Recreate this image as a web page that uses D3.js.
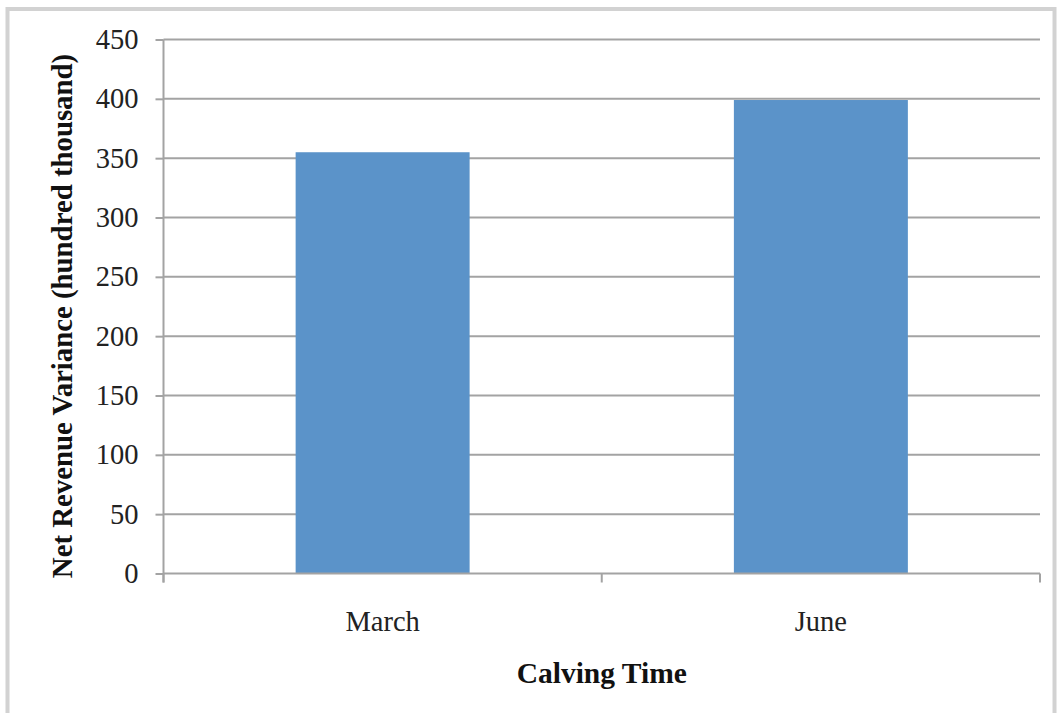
<!DOCTYPE html>
<html>
<head>
<meta charset="utf-8">
<script src="https://cdn.jsdelivr.net/npm/d3@7"></script>
<style>
  html, body { margin: 0; padding: 0; background: #fff; }
  svg { display: block; }
</style>
</head>
<body>
<svg id="chart" width="1057" height="713"></svg>
<script>
// Net revenue variance by calving time
const categories = ["March", "June"];
const values = [355, 399];
const yTicks = [0, 50, 100, 150, 200, 250, 300, 350, 400, 450];
const yTitle = "Net Revenue Variance (hundred thousand)";
const xTitle = "Calving Time";

const svg = d3.select("#chart");
const W = 1057, H = 713;
const margin = { left: 163.5, right: 17, top: 39.5, bottom: 139.5 };
const plotW = W - margin.left - margin.right;
const plotH = H - margin.top - margin.bottom;
const font = "'Liberation Serif', 'Times New Roman', serif";

// outer frame
svg.append("rect")
  .attr("x", 7.5).attr("y", 9).attr("width", 1047).attr("height", 712)
  .attr("fill", "#fff").attr("stroke", "#d2d2d2").attr("stroke-width", 4);

const g = svg.append("g").attr("transform", `translate(${margin.left},${margin.top})`);

const x = d3.scaleBand().domain(categories).range([0, plotW]).paddingInner(0.603).paddingOuter(0.3015);
const y = d3.scaleLinear().domain([0, 450]).range([plotH, 0]);

// horizontal gridlines
g.append("g")
  .selectAll("line")
  .data(yTicks.filter(d => d > 0))
  .join("line")
  .attr("x1", 0).attr("x2", plotW)
  .attr("y1", d => y(d)).attr("y2", d => y(d))
  .attr("stroke", "#a3a3a3").attr("stroke-width", 2);

// bars
g.append("g")
  .selectAll("rect")
  .data(categories.map((c, i) => ({ c, v: values[i] })))
  .join("rect")
  .attr("x", d => x(d.c))
  .attr("width", x.bandwidth())
  .attr("y", d => y(d.v))
  .attr("height", d => plotH - y(d.v))
  .attr("fill", "#5b93c9");

// y axis
const yAxis = g.append("g")
  .call(d3.axisLeft(y).tickValues(yTicks).tickSize(8).tickPadding(17).tickFormat(d3.format("d")));
yAxis.select(".domain").attr("stroke", "#a3a3a3").attr("stroke-width", 2).attr("d", `M0,0V${plotH + 9}`);
yAxis.selectAll(".tick line").attr("stroke", "#a3a3a3").attr("stroke-width", 2);
yAxis.selectAll(".tick text")
  .attr("font-family", font).attr("font-size", 28.5).attr("fill", "#222");

// x axis with boundary ticks between categories
const xAxis = g.append("g").attr("transform", `translate(0,${plotH})`);
xAxis.append("line")
  .attr("x1", 0).attr("x2", plotW).attr("y1", 0).attr("y2", 0)
  .attr("stroke", "#a3a3a3").attr("stroke-width", 2);
const boundaries = [0, 1, 2].map(i => i * plotW / categories.length);
xAxis.selectAll(".bt")
  .data(boundaries)
  .join("line")
  .attr("class", "bt")
  .attr("x1", d => d).attr("x2", d => d).attr("y1", 0).attr("y2", 9)
  .attr("stroke", "#a3a3a3").attr("stroke-width", 2);
xAxis.selectAll(".cl")
  .data(categories)
  .join("text")
  .attr("class", "cl")
  .attr("x", d => x(d) + x.bandwidth() / 2)
  .attr("y", 57)
  .attr("text-anchor", "middle")
  .attr("font-family", font).attr("font-size", 28.5).attr("fill", "#222")
  .text(d => d);

// axis titles
svg.append("text")
  .attr("x", margin.left + plotW / 2).attr("y", 683)
  .attr("text-anchor", "middle")
  .attr("font-family", font).attr("font-size", 29.5).attr("font-weight", "bold").attr("fill", "#111")
  .text(xTitle);

svg.append("text")
  .attr("transform", `translate(72,${(57 + 575) / 2}) rotate(-90)`)
  .attr("text-anchor", "middle")
  .attr("font-family", font).attr("font-size", 28.8).attr("font-weight", "bold").attr("fill", "#111")
  .text(yTitle);
</script>
</body>
</html>
